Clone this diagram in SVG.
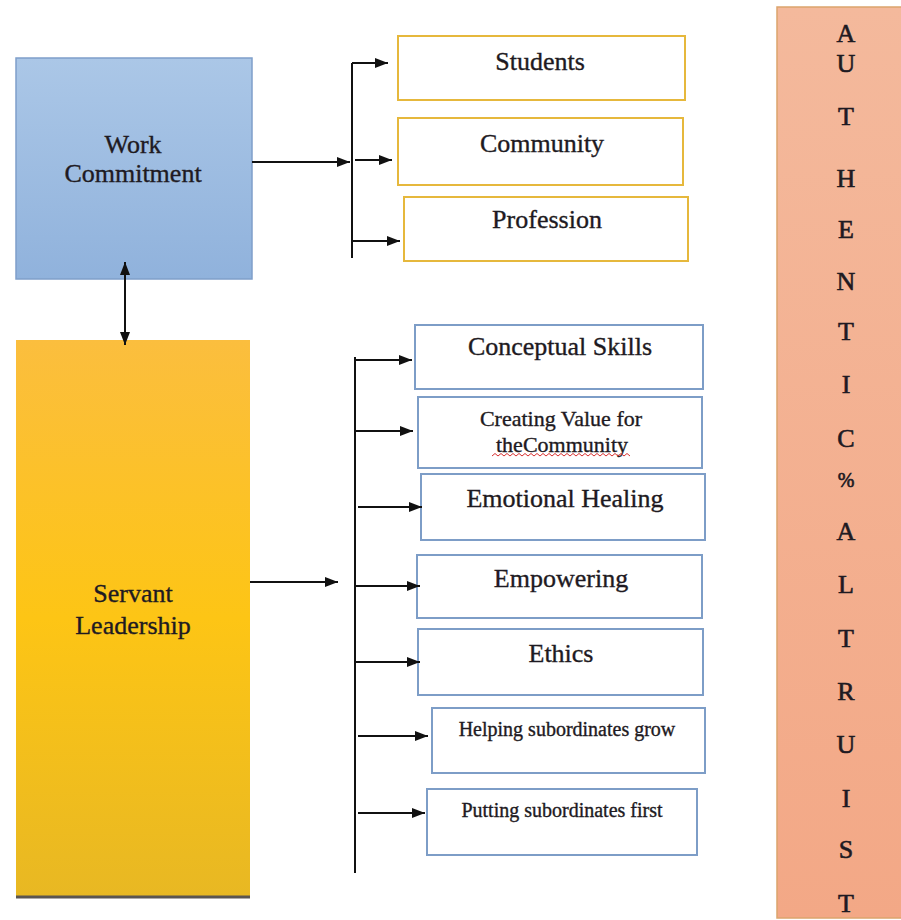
<svg xmlns="http://www.w3.org/2000/svg" width="901" height="920" viewBox="0 0 901 920">
  <defs>
    <linearGradient id="gBlue" x1="0" y1="0" x2="0" y2="1">
      <stop offset="0" stop-color="#abc7e7"/>
      <stop offset="1" stop-color="#90b2dc"/>
    </linearGradient>
    <linearGradient id="gGold" x1="0" y1="0" x2="0" y2="1">
      <stop offset="0" stop-color="#fbbe3e"/>
      <stop offset="0.5" stop-color="#fdc515"/>
      <stop offset="1" stop-color="#e8b823"/>
    </linearGradient>
    <linearGradient id="gSalmon" x1="0" y1="0" x2="0" y2="1">
      <stop offset="0" stop-color="#f4b99c"/>
      <stop offset="1" stop-color="#f3a886"/>
    </linearGradient>
    <marker id="ah" viewBox="0 0 13 10" refX="13" refY="5" markerWidth="13" markerHeight="10" markerUnits="userSpaceOnUse" orient="auto-start-reverse">
      <path d="M0,0 L13,5 L0,10 Z" fill="#111"/>
    </marker>
    <style>
      .t { font-family: "Liberation Serif", "Times New Roman", serif; fill: #1e1a22; stroke: #1e1a22; stroke-width: 0.35; text-anchor: middle; }
      .big { font-size: 26px; }
      .mid { font-size: 22px; }
      .sm { font-size: 20px; }
      .ybox { fill: #ffffff; stroke: #e6b83c; stroke-width: 2; }
      .bbox { fill: #ffffff; stroke: #7d9dc7; stroke-width: 2; }
      .ln { stroke: #111; stroke-width: 2; fill: none; }
      .arr { stroke: #111; stroke-width: 2; fill: none; marker-end: url(#ah); }
    </style>
  </defs>

  <rect width="901" height="920" fill="#ffffff"/>

  <!-- main concept boxes -->
  <g id="work-commitment">
    <rect x="16" y="58" width="236" height="221" fill="url(#gBlue)" stroke="#7f9fca" stroke-width="1.5"/>
    <text class="t big" x="133" y="153">Work</text>
    <text class="t big" x="133" y="182">Commitment</text>
  </g>

  <g id="servant-leadership">
    <rect x="16" y="340" width="234" height="557" fill="url(#gGold)"/>
    <line x1="16" y1="897" x2="250" y2="897" stroke="#5a5550" stroke-width="3"/>
    <text class="t big" x="133" y="602">Servant</text>
    <text class="t big" x="133" y="634">Leadership</text>
  </g>

  <!-- work commitment outcomes -->
  <g id="students">
    <rect class="ybox" x="398" y="36" width="287" height="64"/>
    <text class="t big" x="540" y="70">Students</text>
  </g>
  <g id="community">
    <rect class="ybox" x="398" y="118" width="285" height="67"/>
    <text class="t big" x="542" y="152">Community</text>
  </g>
  <g id="profession">
    <rect class="ybox" x="404" y="197" width="284" height="64"/>
    <text class="t big" x="547" y="228">Profession</text>
  </g>

  <!-- servant leadership dimensions -->
  <g id="conceptual-skills">
    <rect class="bbox" x="415" y="325" width="288" height="64"/>
    <text class="t big" x="560" y="355">Conceptual Skills</text>
  </g>
  <g id="creating-value">
    <rect class="bbox" x="418" y="397" width="284" height="71"/>
    <text class="t mid" x="561" y="426">Creating Value for</text>
    <text class="t mid" x="562" y="452">theCommunity</text>
    <path d="M492,456 l3,-2.5 l3,2.5 l3,-2.5 l3,2.5 l3,-2.5 l3,2.5 l3,-2.5 l3,2.5 l3,-2.5 l3,2.5 l3,-2.5 l3,2.5 l3,-2.5 l3,2.5 l3,-2.5 l3,2.5 l3,-2.5 l3,2.5 l3,-2.5 l3,2.5 l3,-2.5 l3,2.5 l3,-2.5 l3,2.5 l3,-2.5 l3,2.5 l3,-2.5 l3,2.5 l3,-2.5 l3,2.5 l3,-2.5 l3,2.5 l3,-2.5 l3,2.5 l3,-2.5 l3,2.5 l3,-2.5 l3,2.5 l3,-2.5 l3,2.5 l3,-2.5 l3,2.5 l3,-2.5 l3,2.5 l3,-2.5 l3,2.5" fill="none" stroke="#d83030" stroke-width="1"/>
  </g>
  <g id="emotional-healing">
    <rect class="bbox" x="421" y="474" width="284" height="66"/>
    <text class="t big" x="565" y="507">Emotional Healing</text>
  </g>
  <g id="empowering">
    <rect class="bbox" x="417" y="555" width="285" height="63"/>
    <text class="t big" x="561" y="587">Empowering</text>
  </g>
  <g id="ethics">
    <rect class="bbox" x="418" y="629" width="285" height="66"/>
    <text class="t big" x="561" y="662">Ethics</text>
  </g>
  <g id="helping-grow">
    <rect class="bbox" x="432" y="708" width="273" height="65"/>
    <text class="t sm" x="567" y="736">Helping subordinates grow</text>
  </g>
  <g id="putting-first">
    <rect class="bbox" x="427" y="789" width="270" height="66"/>
    <text class="t sm" x="562" y="817">Putting subordinates first</text>
  </g>

  <!-- vertical banner -->
  <g id="authentic-altruist">
    <rect x="777" y="7" width="126" height="911" fill="url(#gSalmon)" stroke="#dca46c" stroke-width="1.5"/>
    <g class="t big" style="stroke-width:0.6">
      <text x="846" y="42">A</text>
      <text x="846" y="72">U</text>
      <text x="846" y="125">T</text>
      <text x="846" y="187">H</text>
      <text x="846" y="238">E</text>
      <text x="846" y="290">N</text>
      <text x="846" y="340">T</text>
      <text x="846" y="393">I</text>
      <text x="846" y="447">C</text>
      <text x="846" y="487" style="font-size:20px">%</text>
      <text x="846" y="540">A</text>
      <text x="846" y="593">L</text>
      <text x="846" y="647">T</text>
      <text x="846" y="700">R</text>
      <text x="846" y="753">U</text>
      <text x="846" y="807">I</text>
      <text x="846" y="858">S</text>
      <text x="846" y="912">T</text>
    </g>
  </g>

  <!-- connectors -->
  <g id="connectors">
    <!-- two-way link between the main boxes -->
    <line class="arr" x1="125" y1="303" x2="125" y2="262" />
    <line class="arr" x1="125" y1="303" x2="125" y2="345" />

    <!-- work commitment branch -->
    <line class="arr" x1="252" y1="162" x2="350" y2="162"/>
    <line class="ln" x1="352" y1="63" x2="352" y2="258"/>
    <line class="arr" x1="352" y1="63" x2="388" y2="63"/>
    <line class="arr" x1="355" y1="160" x2="392" y2="160"/>
    <line class="arr" x1="352" y1="241" x2="400" y2="241"/>

    <!-- servant leadership branch -->
    <line class="arr" x1="250" y1="582" x2="338" y2="582"/>
    <line class="ln" x1="355" y1="357" x2="355" y2="873"/>
    <line class="arr" x1="355" y1="360" x2="412" y2="360"/>
    <line class="arr" x1="356" y1="431" x2="413" y2="431"/>
    <line class="arr" x1="358" y1="507" x2="422" y2="507"/>
    <line class="arr" x1="355" y1="586" x2="420" y2="586"/>
    <line class="arr" x1="355" y1="662" x2="420" y2="662"/>
    <line class="arr" x1="358" y1="736" x2="428" y2="736"/>
    <line class="arr" x1="358" y1="813" x2="425" y2="813"/>
  </g>
</svg>
